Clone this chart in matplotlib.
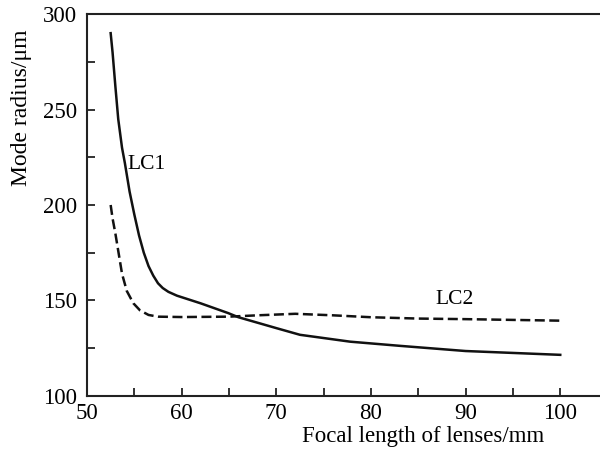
import matplotlib
matplotlib.use('Agg')
import matplotlib.pyplot as plt
from matplotlib.ticker import MultipleLocator

# curve values (focal length in mm, mode radius in um)
lc1_x = [52.5, 52.7, 53.0, 53.3, 53.7, 54.0, 54.5, 55.0, 55.5, 56.0, 56.5, 57.0,
         57.5, 58.0, 58.6, 59.5, 62.0, 64.9, 66.0, 70.0, 72.5, 77.8, 83.1, 90.0,
         95.0, 100.0]
lc1_y = [290, 280, 262, 245, 230, 222, 207, 195, 184, 175, 168, 163,
         159, 156.5, 154.5, 152.5, 148.5, 143.4, 141.2, 135.5, 132, 128.4, 126.2, 123.5,
         122.5, 121.5]

lc2_x = [52.5, 52.7, 53.0, 53.4, 53.7, 54.2, 54.9, 55.6, 56.5, 57.5, 60.0, 65.0,
         68.0, 72.0, 76.0, 80.0, 85.0, 90.0, 95.0, 100.0]
lc2_y = [200, 193, 185, 173, 164, 155, 148.5, 144.8, 142.4, 141.5, 141.3, 141.5,
         142.2, 143.0, 142.2, 141.2, 140.5, 140.2, 139.8, 139.4]

plt.rcParams['font.family'] = ['Liberation Serif', 'DejaVu Serif']

fig = plt.figure(figsize=(6, 4.54), dpi=100)
ax = fig.add_axes([0.145, 0.128, 0.855, 0.841])

ax.plot(lc1_x, lc1_y, color='#111111', lw=1.8, solid_joinstyle='round')
ax.plot(lc2_x, lc2_y, color='#111111', lw=1.8, dashes=(4, 1.8))

ax.text(54.3, 221, 'LC1', fontsize=15.5, va='center', ha='left')
ax.text(86.8, 150.5, 'LC2', fontsize=15.5, va='center', ha='left')

ax.set_xlim(50, 104.2)
ax.set_ylim(100, 300)
ax.xaxis.set_major_locator(MultipleLocator(10))
ax.xaxis.set_minor_locator(MultipleLocator(5))
ax.yaxis.set_major_locator(MultipleLocator(50))
ax.yaxis.set_minor_locator(MultipleLocator(25))
ax.tick_params(which='both', direction='in', length=6, width=1.3, color='#222222',
               top=False, right=False)
ax.tick_params(axis='x', which='major', labelsize=16.5, pad=5)
ax.tick_params(axis='y', which='major', labelsize=16.5, pad=7)

for side in ['left', 'bottom', 'top']:
    ax.spines[side].set_linewidth(1.5)
    ax.spines[side].set_color('#222222')
ax.spines['right'].set_visible(False)

ax.set_xlabel('Focal length of lenses/mm', fontsize=16.5)
ax.xaxis.set_label_coords(0.655, -0.08)
ax.set_ylabel('Mode radius/\u03bcm', fontsize=17)
ax.yaxis.set_label_coords(-0.108, 0.755)

plt.savefig('out.png', dpi=100)
